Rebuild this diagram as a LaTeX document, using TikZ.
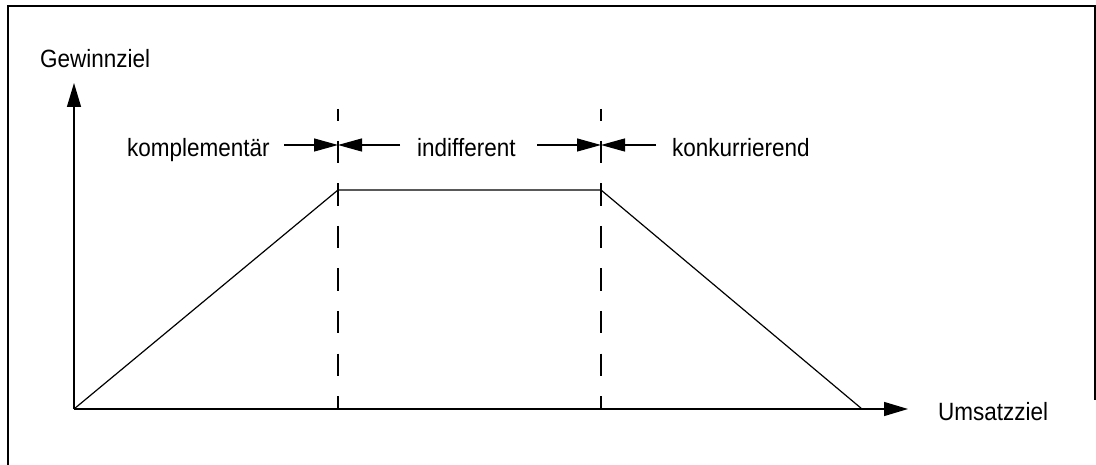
\documentclass[tikz,border=0pt]{standalone}
\usepackage{fontspec}
\setmainfont{Liberation Sans}
\newfontfamily\narrowfont[FakeStretch=0.9]{Liberation Sans}
\usetikzlibrary{arrows.meta}
\begin{document}
\begin{tikzpicture}[x=1pt,y=-1pt,
  lbl/.style={inner sep=0pt, anchor=base west, font=\narrowfont\fontsize{25}{30}\selectfont},
  axis/.style={line width=1.4pt, -{Triangle[length=24pt,width=14pt]}},
  dim/.style={line width=1.2pt, -{Triangle[length=24pt,width=13pt]}},
  curve/.style={line width=1.2pt},
  guide/.style={line width=1.2pt, dash pattern=on 22.5pt off 20pt, dash phase=10.5pt},
  frame/.style={line width=1.6pt}]
\useasboundingbox (0,0) rectangle (1096,465);
% frame
\coordinate (f1) at (8,465);
\coordinate (f2) at (8,6);
\coordinate (f3) at (1095,6);
\coordinate (f4) at (1095,400);
\draw[frame] (f1) -- (f2) -- (f3) -- (f4);
% axes
\coordinate (O) at (74,409);
\coordinate (Ytip) at (74,83);
\coordinate (Xtip) at (908,409);
\draw[axis] (O) -- (Ytip);
\draw[axis] (O) -- (Xtip);
% curve
\coordinate (A) at (338,190);
\coordinate (B) at (601,190);
\coordinate (E) at (862,409);
\draw[curve] (O) -- (A) -- (B) -- (E);
% dashed guides
\coordinate (g1t) at (338,109);
\coordinate (g1b) at (338,409);
\coordinate (g2t) at (601,109);
\coordinate (g2b) at (601,409);
\draw[guide] (g1t) -- (g1b);
\draw[guide] (g2t) -- (g2b);
% dimension arrows
\coordinate (a1) at (284,145);
\coordinate (m1) at (338,145);
\coordinate (a2) at (400,145);
\coordinate (a3) at (537,145);
\coordinate (m2) at (601,145);
\coordinate (a4) at (656,145);
\draw[dim] (a1) -- (m1);
\draw[dim] (a2) -- (m1);
\draw[dim] (a3) -- (m2);
\draw[dim] (a4) -- (m2);
% labels
\node[lbl] (ly) at (40,68) {Gewinnziel};
\node[lbl] (lx) at (938,420) {Umsatzziel};
\node[lbl] (l1) at (127,157) {komplementär};
\node[lbl] (l2) at (417,157) {indifferent};
\node[lbl] (l3) at (672,157) {konkurrierend};
\end{tikzpicture}
\end{document}
